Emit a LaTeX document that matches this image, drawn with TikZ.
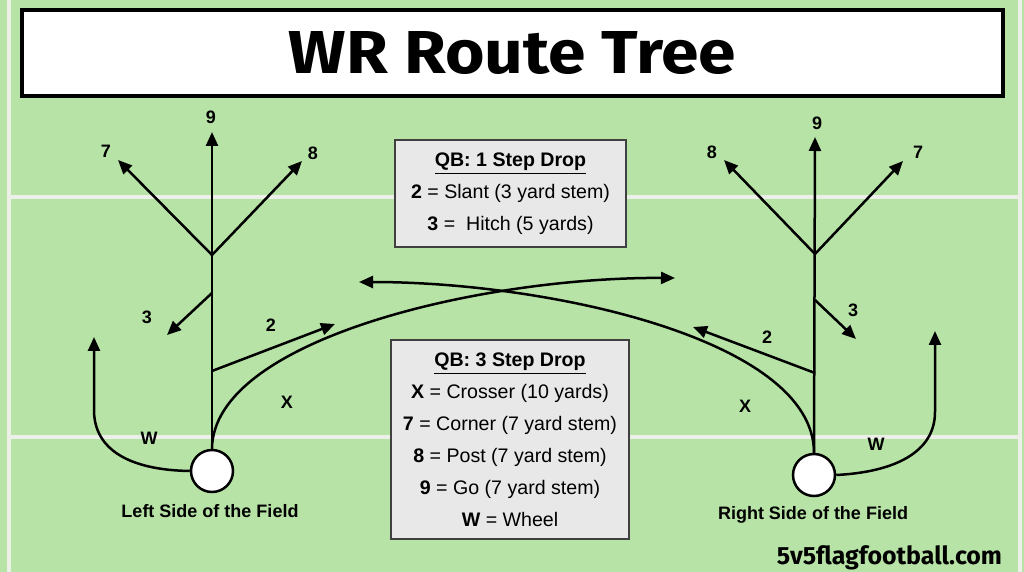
\documentclass[tikz,border=0pt]{standalone}
\usepackage{fontspec}
\setmainfont{Liberation Sans}
\newfontfamily\headfont{Fira Sans}
\usetikzlibrary{positioning}
\usetikzlibrary{arrows.meta}
\definecolor{field}{RGB}{183,228,166}
\definecolor{yard}{RGB}{236,240,232}
\definecolor{legend}{RGB}{232,232,232}
\definecolor{edge}{RGB}{64,64,64}

\tikzset{
  route/.style={line width=1.25pt,-{Triangle[length=7pt,width=6pt]}},
  yardline/.style={yard,line width=2pt},
  player/.style={circle,draw,line width=1.25pt,fill=white,minimum size=21pt,inner sep=0pt},
  num/.style={font=\fontsize{9}{11}\selectfont\bfseries},
  side/.style={font=\fontsize{9}{11}\selectfont\bfseries},
  titlebox/.style={draw,line width=2.2pt,fill=white,inner sep=0pt,minimum width=490.5pt,minimum height=43pt},
  legendbox/.style={draw=edge,line width=0.8pt,fill=legend,align=center,inner sep=0pt,font=\fontsize{9.8}{16}\selectfont}
}

\begin{document}
\begin{tikzpicture}[x=0.5pt,y=-0.5pt]
  % Field
  \useasboundingbox (0,0) rectangle (1024,572);
  \fill[field] (0,0) rectangle (1024,572);
  \draw[yardline] (9,0) -- (9,572);
  \draw[yardline] (1020,0) -- (1020,572);
  \draw[yardline] (9,197) -- (1020,197);
  \draw[yardline] (9,437) -- (1020,437);

  % Title
  \node[titlebox] (title) at (512.5,53) {\resizebox{223.5pt}{21pt}{\headfont\bfseries WR Route Tree}};

  % Left side
  \node[player] (lp) at (212,471) {};
  \coordinate (lb) at (212,255);
  \coordinate (l9) at (212,132);
  \coordinate (l7) at (118,160);
  \coordinate (l8) at (302,161);
  \coordinate (l3s) at (212,293);
  \coordinate (l3) at (167,335);
  \coordinate (l2s) at (212,371);
  \coordinate (l2) at (335,324);
  \coordinate (lx) at (675,278);
  \coordinate (lw) at (94,337);
  \draw[route] (lp.north) -- (l9);
  \draw[route] (lb) -- (l7);
  \draw[route] (lb) -- (l8);
  \draw[route] (l3s) -- (l3);
  \draw[route] (l2s) -- (l2);
  \draw[route] (lp.north) .. controls (213,340) and (480,277) .. (lx);
  \draw[route] (lp.west) .. controls (130,470) and (94,450) .. (94,410) -- (lw);

  \node[num] (l9t) at (211,117) {9};
  \node[num] (l7t) at (106,151) {7};
  \node[num] (l8t) at (313,153) {8};
  \node[num] (l3t) at (147,317) {3};
  \node[num] (l2t) at (271,325) {2};
  \node[num] (lxt) at (287,402) {X};
  \node[num] (lwt) at (149,438) {W};
  \node[side] (lside) at (210,511) {Left Side of the Field};

  % Right side
  \node[player] (rp) at (814,475) {};
  \coordinate (rb) at (815,254);
  \coordinate (r9) at (815,137);
  \coordinate (r8) at (724,160);
  \coordinate (r7) at (903,161);
  \coordinate (r3s) at (815,300);
  \coordinate (r3) at (856,339);
  \coordinate (r2s) at (815,373);
  \coordinate (r2) at (693,327);
  \coordinate (rx) at (359,282);
  \coordinate (rw) at (935,331);
  \draw[route] (rp.north) -- (r9);
  \draw[route] (rb) -- (r8);
  \draw[route] (rb) -- (r7);
  \draw[route] (r3s) -- (r3);
  \draw[route] (r2s) -- (r2);
  \draw[route] (rp.north) .. controls (814,340) and (550,282) .. (rx);
  \draw[route] (rp.east) .. controls (895,472) and (935,452) .. (935,412) -- (rw);

  \node[num] (r9t) at (817,123) {9};
  \node[num] (r8t) at (712,152) {8};
  \node[num] (r7t) at (918,152) {7};
  \node[num] (r3t) at (853,310) {3};
  \node[num] (r2t) at (767,337) {2};
  \node[num] (rxt) at (745,406) {X};
  \node[num] (rwt) at (876,444) {W};
  \node[side] (rside) at (813,515) {Right Side of the Field};

  % Legend
  \node[legendbox,minimum width=115.5pt,minimum height=53.5pt] (drop1) at (510.5,193.5)
    {\underline{\textbf{QB: 1 Step Drop}}\\ \textbf{2} = Slant (3 yard stem)\\ \textbf{3} = \ Hitch (5 yards)};
  \node[legendbox,minimum width=119pt,minimum height=99.5pt] (drop3) at (510,439.5)
    {\underline{\textbf{QB: 3 Step Drop}}\\ \textbf{X} = Crosser (10 yards)\\ \textbf{7} = Corner (7 yard stem)\\
     \textbf{8} = Post (7 yard stem)\\ \textbf{9} = Go (7 yard stem)\\ \textbf{W} = Wheel};

  % Site
  \node[anchor=base] (site) at (889.5,565) {\resizebox{112.5pt}{!}{\headfont\bfseries 5v5flagfootball.com}};
\end{tikzpicture}
\end{document}
